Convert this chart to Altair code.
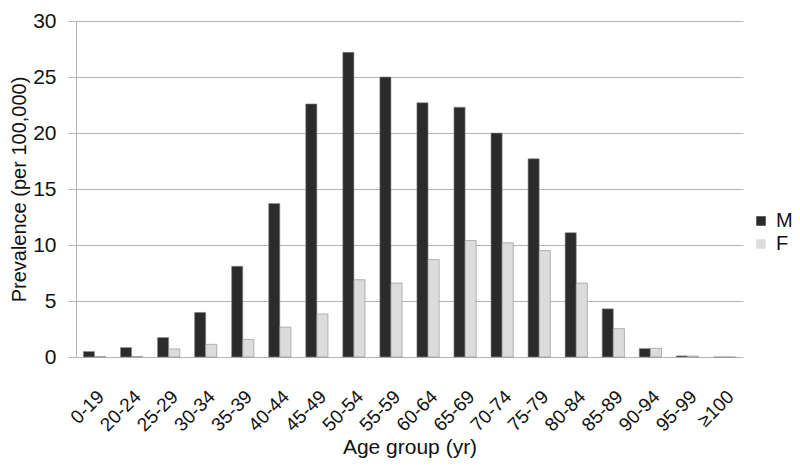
import altair as alt
import pandas as pd

ages = ["0-19", "20-24", "25-29", "30-34", "35-39", "40-44", "45-49", "50-54",
        "55-59", "60-64", "65-69", "70-74", "75-79", "80-84", "85-89", "90-94",
        "95-99", "≥100"]
male = [0.49, 0.84, 1.74, 3.98, 8.1, 13.7, 22.6, 27.2, 25.0, 22.7, 22.3, 20.0,
        17.7, 11.1, 4.3, 0.75, 0.1, 0.0]
female = [0.05, 0.05, 0.72, 1.13, 1.57, 2.67, 3.84, 6.9, 6.6, 8.7, 10.4, 10.2,
          9.5, 6.6, 2.53, 0.78, 0.08, 0.0]

rows = []
for a, m, f in zip(ages, male, female):
    rows.append({"age": a, "sex": "M", "value": m})
    rows.append({"age": a, "sex": "F", "value": f})
df = pd.DataFrame(rows)

font = "Liberation Sans"
W, H = 667, 336

chart = alt.Chart(df).mark_bar(stroke="#8a8a8a", strokeWidth=0.6).encode(
    x=alt.X("age:N", sort=ages, title="Age group (yr)",
            scale=alt.Scale(paddingInner=0.4, paddingOuter=0.2),
            axis=alt.Axis(labelAngle=-45, labelAlign="right", labelBaseline="top",
                          labelFontSize=19, titleFontSize=21, titleFontWeight="normal",
                          ticks=False, domain=False, labelPadding=30,
                          titleY=90, titleBaseline="middle",
                          labelColor="#111", titleColor="#111")),
    xOffset=alt.XOffset("sex:N", sort=["M", "F"]),
    y=alt.Y("value:Q", title="Prevalence (per 100,000)",
            scale=alt.Scale(domain=[0, 30]),
            axis=alt.Axis(values=[0, 5, 10, 15, 20, 25, 30], labelFontSize=21,
                          titleFontSize=20, titleFontWeight="normal",
                          ticks=True, tickSize=8, tickColor="#b4b4b4",
                          domain=True, domainColor="#b4b4b4", gridColor="#b4b4b4",
                          labelPadding=12, titleX=-57, titleY=H / 2,
                          titleBaseline="middle",
                          labelColor="#111", titleColor="#111")),
    color=alt.Color("sex:N", sort=["M", "F"],
                    scale=alt.Scale(domain=["M", "F"], range=["#2b2b2b", "#dcdcdc"]),
                    legend=alt.Legend(title=None, orient="none", legendX=675, legendY=190,
                                      padding=0,
                                      symbolType="square", symbolSize=90,
                                      labelFontSize=20, rowPadding=3, labelOffset=5,
                                      symbolStrokeWidth=0, labelColor="#111")),
).properties(
    width=W, height=H,
    autosize=alt.AutoSizeParams(type="none"),
    padding={"left": 68, "top": 13, "right": 49, "bottom": 103},
).configure(font=font).configure_view(stroke=None)

chart.save("out.html", embed_options={"renderer": "svg", "actions": False})
